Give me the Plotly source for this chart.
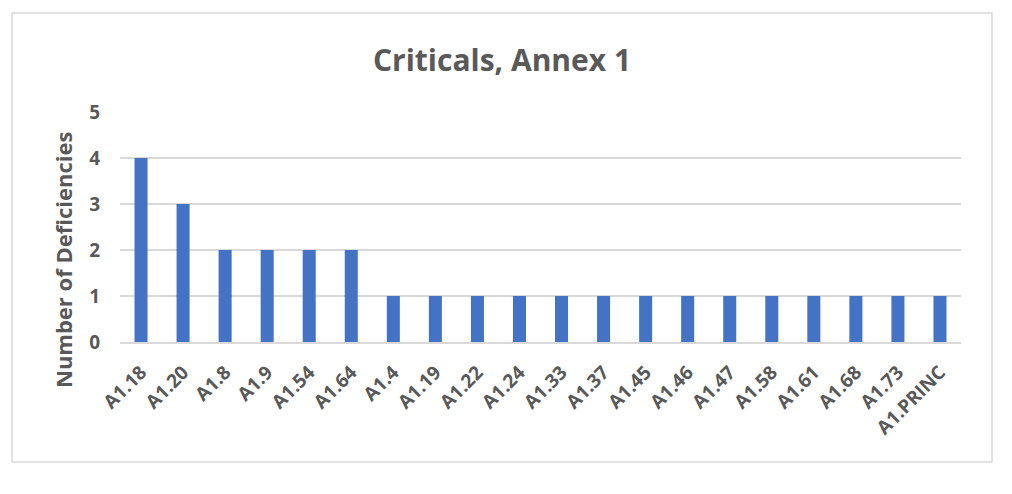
import plotly.graph_objects as go

# chart data
categories = ["A1.18", "A1.20", "A1.8", "A1.9", "A1.54", "A1.64", "A1.4", "A1.19",
              "A1.22", "A1.24", "A1.33", "A1.37", "A1.45", "A1.46", "A1.47", "A1.58",
              "A1.61", "A1.68", "A1.73", "A1.PRINC"]
deficiencies = [4, 3, 2, 2, 2, 2, 1, 1, 1, 1, 1, 1, 1, 1, 1, 1, 1, 1, 1, 1]
y_ticks = [0, 1, 2, 3, 4, 5]

# page has an 8px body margin, so work in figure pixels (page pixels - 8)
W, H = 1004, 486
left, right, top, bottom = 112, 51, 104, 152
plot_w = W - left - right
plot_h = H - top - bottom


def px_x(p):
    return (p - 8 - left) / plot_w


def px_y(p):
    return (H - bottom - (p - 8)) / plot_h


text_color = "#595959"
font_family = "Open Sans, Lato, sans-serif"

fig = go.Figure(go.Bar(
    x=categories,
    y=deficiencies,
    marker=dict(color="#4472C4", line=dict(width=0)),
))

fig.update_layout(
    width=W, height=H,
    margin=dict(l=left, r=right, t=top, b=bottom),
    paper_bgcolor="white",
    plot_bgcolor="white",
    bargap=0.69,
    showlegend=False,
    title=dict(
        text="Criticals, Annex 1",
        x=(502 - 8) / W, xanchor="center",
        y=1 - 52 / H, yanchor="middle",
        font=dict(family=font_family, size=30, color=text_color, weight="bold"),
    ),
    font=dict(family=font_family, color=text_color),
    shapes=[dict(
        type="rect", xref="paper", yref="paper",
        x0=px_x(12), x1=px_x(992), y0=px_y(462), y1=px_y(13),
        line=dict(color="#D9D9D9", width=1.5),
        fillcolor="rgba(0,0,0,0)", layer="below",
    )],
    annotations=[dict(
        text="Number of Deficiencies",
        xref="paper", yref="paper",
        x=px_x(63), y=px_y(260),
        xanchor="center", yanchor="middle",
        textangle=-90, showarrow=False,
        font=dict(family=font_family, size=22, color=text_color, weight="bold"),
    )],
)

fig.update_xaxes(
    tickangle=-45,
    tickfont=dict(size=19, color=text_color, weight="bold"),
    showgrid=False,
    showline=True, linecolor="#D9D9D9", linewidth=1.5,
    ticks="", ticklabelstandoff=10,
)

fig.update_yaxes(
    range=[0, 5],
    tickvals=y_ticks,
    tickfont=dict(size=19, color=text_color, weight="bold"),
    showgrid=True, gridcolor="#D9D9D9", gridwidth=1.5,
    zeroline=False,
    ticks="", ticklabelstandoff=19,
)

fig.write_html("out.html")
